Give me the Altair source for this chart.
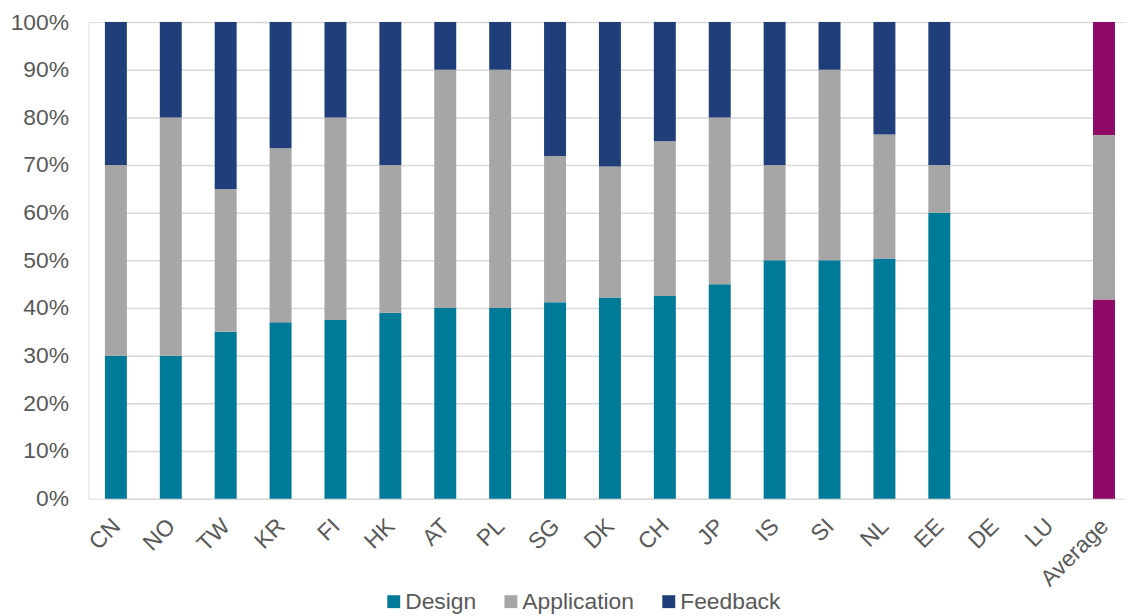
import altair as alt
import pandas as pd

categories = ["CN", "NO", "TW", "KR", "FI", "HK", "AT", "PL", "SG", "DK",
              "CH", "JP", "IS", "SI", "NL", "EE", "DE", "LU", "Average"]
design = [30, 30, 35, 37, 37.5, 39, 40, 40, 41.2, 42.2,
          42.5, 45, 50, 50, 50.4, 60, None, None, 41.8]
application = [40, 50, 30, 36.5, 42.5, 31, 50, 50, 30.7, 27.5,
               32.5, 35, 20, 40, 26, 10, None, None, 34.5]
feedback = [30, 20, 35, 26.5, 20, 30, 10, 10, 28.1, 30.3,
            25, 20, 30, 10, 23.6, 30, None, None, 23.7]

series_names = ["Design", "Application", "Feedback"]
rows = []
for i, c in enumerate(categories):
    for k, (name, vals) in enumerate(zip(series_names, [design, application, feedback])):
        v = vals[i]
        if v is None:
            continue
        key = name
        if c == "Average" and name != "Application":
            key = "Avg " + name
        rows.append({"cat": c, "series": name, "key": key, "value": v / 100.0, "ord": k})
df = pd.DataFrame(rows)

teal = "#007A99"
gray = "#A6A6A6"
navy = "#203F7A"
magenta = "#8E0866"
text_color = "#595959"
font = "Liberation Sans"
fs = 23

chart = alt.Chart(df).mark_bar().encode(
    x=alt.X("cat:N", sort=categories,
            scale=alt.Scale(domain=categories, range=[16.6, 1033.9],
                            paddingInner=0.6, paddingOuter=0, round=False),
            axis=alt.Axis(title=None, labelAngle=-45, labelFontSize=fs, labelColor=text_color,
                          labelFont=font, ticks=False, domain=False, labelPadding=16,
                          labelOffset=-7)),
    y=alt.Y("value:Q", stack="zero",
            scale=alt.Scale(domain=[0, 1], nice=False),
            axis=alt.Axis(title=None, format=".0%", values=[i / 10 for i in range(11)],
                          labelFontSize=fs, labelColor=text_color, labelFont=font,
                          ticks=False, domain=False, labelPadding=20,
                          gridColor="#D9D9D9", gridWidth=1.5)),
    color=alt.Color("key:N",
                    scale=alt.Scale(domain=["Design", "Application", "Feedback", "Avg Design", "Avg Feedback"],
                                    range=[teal, gray, navy, magenta, magenta]),
                    legend=alt.Legend(title=None, values=["Design", "Application", "Feedback"],
                                      orient="none", legendX=296, legendY=572, direction="horizontal",
                                      symbolType="square", symbolSize=169, symbolStrokeWidth=0,
                                      symbolOpacity=1,
                                      labelFontSize=fs, labelColor=text_color, labelFont=font,
                                      labelOffset=0, columnPadding=23, padding=0)),
    order=alt.Order("ord:Q"),
).properties(
    width=1045, height=480,
    autosize=alt.AutoSizeParams(type="none"),
    padding={"left": 81, "top": 12, "right": 0, "bottom": 116},
).configure_view(stroke=None).configure(font=font)

chart.save("out.html", embed_options={"renderer": "svg", "actions": False})
